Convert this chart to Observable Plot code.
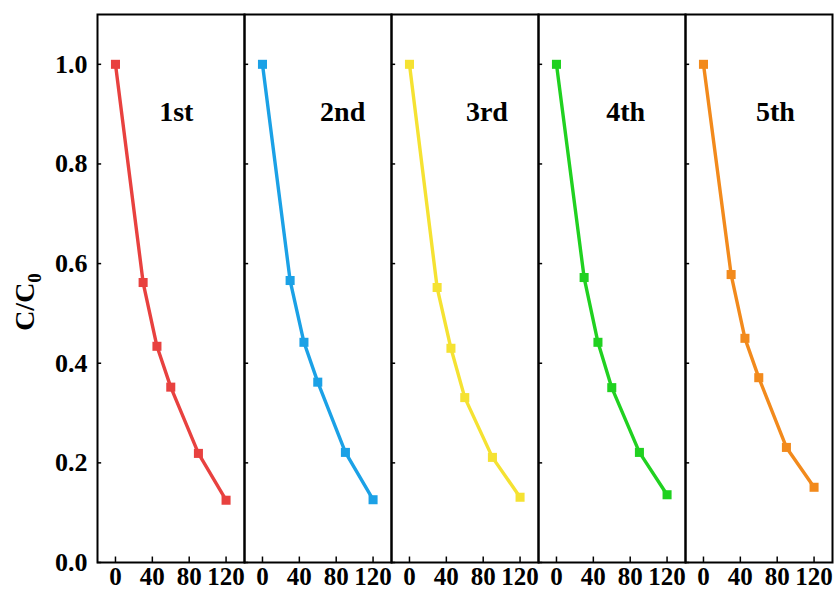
<!DOCTYPE html>
<html>
<head>
<meta charset="utf-8">
<script src="https://cdn.jsdelivr.net/npm/d3@7"></script>
<script src="https://cdn.jsdelivr.net/npm/@observablehq/plot@0.6"></script>
<style>
  html, body { margin: 0; padding: 0; background: #fff; }
  #chart { width: 838px; height: 595px; }
</style>
</head>
<body>
<div id="chart"></div>
<script>
// ---- data ----
const cycles = ["1st", "2nd", "3rd", "4th", "5th"];
const colors = ["#e8413f", "#1ba1e6", "#f5e232", "#20d120", "#f28a1c"];
const times = [0, 30, 45, 60, 90, 120];
const run1 = [1.0, 0.562, 0.434, 0.352, 0.219, 0.125];
const run2 = [1.0, 0.566, 0.442, 0.362, 0.221, 0.126];
const run3 = [1.0, 0.552, 0.430, 0.331, 0.211, 0.131];
const run4 = [1.0, 0.572, 0.442, 0.351, 0.221, 0.136];
const run5 = [1.0, 0.578, 0.450, 0.371, 0.231, 0.151];
const xTicks = [0, 40, 80, 120];
const yTicks = [0.0, 0.2, 0.4, 0.6, 0.8, 1.0];
const labelX = [66, 87, 84, 75, 78];
const labelY = 0.904;

const runs = [run1, run2, run3, run4, run5];
const table = [];
cycles.forEach((c, i) => times.forEach((t, j) => table.push({cycle: c, t, c0: runs[i][j]})));
const labels = cycles.map((c, i) => ({cycle: c, x: labelX[i], y: labelY}));

const xDomain = [-19.5, 140];
const FONT = "'Liberation Serif', 'Times New Roman', serif";

const chart = Plot.plot({
  width: 838,
  height: 595,
  marginLeft: 95,
  marginRight: 5,
  marginTop: 14,
  marginBottom: 33,
  style: {fontFamily: FONT, fontWeight: "bold", background: "#fff", color: "#000"},
  fx: {domain: cycles, padding: 0, axis: null, label: null},
  x: {domain: xDomain, label: null},
  y: {domain: [0, 1.1], label: null},
  color: {domain: cycles, range: colors},
  marks: [
    Plot.axisY({ticks: yTicks, tickSize: 0, tickPadding: 10, tickFormat: d3.format(".1f"), fontSize: 26, label: null}),
    Plot.axisX({ticks: xTicks, tickSize: 0, tickPadding: 5, fontSize: 25, label: null}),
    Plot.ruleY(yTicks, {y: d => d, x1: xDomain[0], x2: xDomain[0] + 4.5, stroke: "#000", strokeWidth: 1.5}),
    Plot.ruleX(xTicks, {x: d => d, y1: 0, y2: 0.011, stroke: "#000", strokeWidth: 1.5}),
    Plot.line(table, {x: "t", y: "c0", fx: "cycle", stroke: "cycle", strokeWidth: 3.4}),
    Plot.dot(table, {x: "t", y: "c0", fx: "cycle", fill: "cycle", symbol: "square", r: 5.1}),
    Plot.text(labels, {x: "x", y: "y", fx: "cycle", text: "cycle", fontSize: 28, fill: "#000"}),
    Plot.frame({stroke: "#000", strokeWidth: 2})
  ]
});

document.getElementById("chart").appendChild(chart);

const svg = d3.select(chart);
svg.selectAll('g[aria-label="y-axis tick label"]').style("font-size", "26px").style("font-weight", "bold").style("font-family", FONT);
svg.selectAll('g[aria-label="x-axis tick label"]').style("font-size", "25px").style("font-weight", "bold").style("font-family", FONT);
svg.selectAll('g[aria-label="text"]').style("font-size", "28px").style("font-weight", "bold").style("font-family", FONT);

// y-axis title with a real subscript
const title = svg.append("text")
  .attr("transform", "translate(34,302) rotate(-90)")
  .attr("text-anchor", "middle")
  .style("font-family", FONT)
  .style("font-weight", "bold")
  .style("font-size", "28px")
  .attr("fill", "#000");
title.append("tspan").text("C/C");
title.append("tspan").style("font-size", "19px").attr("dy", 7).text("0");
</script>
</body>
</html>
